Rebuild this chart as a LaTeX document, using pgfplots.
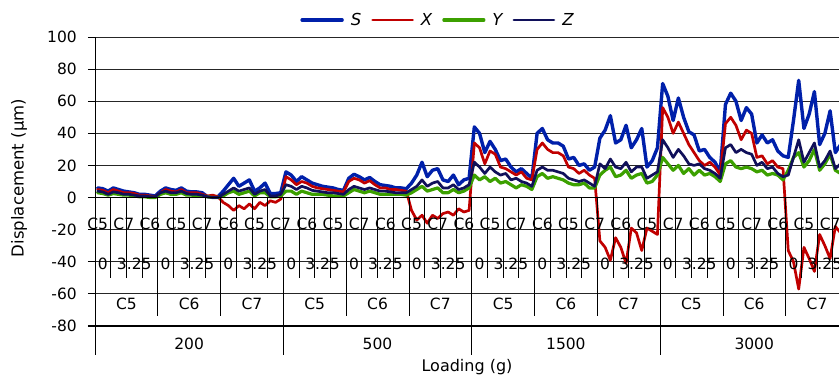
\documentclass[border=0pt]{standalone}
\usepackage{fontspec}
\setmainfont{Liberation Sans}
\newfontfamily\dejavu{DejaVu Sans}
\usepackage{pgfplots}
\usepackage{pgfplotstable}
\pgfplotsset{compat=1.18}
\definecolor{cS}{RGB}{0,32,170}
\definecolor{cX}{RGB}{192,0,0}
\definecolor{cY}{RGB}{60,160,0}
\definecolor{cZ}{RGB}{16,16,90}

\pgfplotstableread{
x S X Y Z
0.5 6 5 3 4
1.5 5.5 4.5 2.5 3.5
2.5 4 3 1.5 2
3.5 6 5 2.5 3.5
4.5 5 4 2 3
5.5 4 3 1.5 2
6.5 3.5 3 1.5 2
7.5 3 2.5 1 1.5
8.5 2 1.5 0.5 1
9.5 2 1.5 0.5 1
10.5 1.5 1 0 0.5
11.5 1 0.5 0 0.5
12.5 4 3 2 3
13.5 6 5 3 4
14.5 5 4 2 3
15.5 4.5 3.5 2 3
16.5 6 5 3 4
17.5 4 3 1.5 2.5
18.5 3.5 3 1.5 2
19.5 3.5 3 1 2
20.5 3 2 1 1.5
21.5 0.5 1 0.5 0.5
22.5 0.5 1.5 0 0
23.5 0.5 0.5 0 0
24.5 4 -3 1 2
25.5 8 -5 3 4
26.5 12 -8 4 6
27.5 7 -5 2 4
28.5 9 -7 3 5
29.5 11 -4 4 6
30.5 4 -7 1 2
31.5 6 -3 3 4
32.5 9 -5 3 5
33.5 2.5 -2 0.5 1
34.5 2.5 -3 0.5 1
35.5 3 -1 1 2
36.5 16 13 4 8
37.5 14 11 4 7
38.5 10 8 2 5
39.5 13 10 4 7
40.5 11 9 3 6
41.5 9 7 2 4.5
42.5 8 6 2 4
43.5 7 5.5 2 3.5
44.5 6.5 5 1.5 3
45.5 6 4.5 1 3
46.5 5 4 1 2.5
47.5 4.5 3.5 1 2
48.5 12 10 3 5
49.5 14.5 12 5 7
50.5 13 11 4 6
51.5 11 9 3 5
52.5 12.5 10.5 4 6
53.5 10 8 3 5
54.5 8 6 2 4
55.5 7.5 6 2 4
56.5 7 5 2 3.5
57.5 6 5 2 3
58.5 6 4.5 2 3
59.5 5.5 4 1.5 3
60.5 9 -8 3 5
61.5 14 -14 5 7
62.5 22 -11 7 11
63.5 13 -16 4 7
64.5 17 -11 5 9
65.5 18 -13 6 10
66.5 11 -10 3 6
67.5 10 -9 3 6
68.5 14 -11 5 8
69.5 8 -7 3 5
70.5 11 -9 4 6
71.5 12 -8 6 8
72.5 44 34 14 22
73.5 40 31 11 19
74.5 28 21 13 15
75.5 35 29 10 19
76.5 30 27 12 16
77.5 23 19 9 14
78.5 24 18 10 15
79.5 19 16 8 11
80.5 16 14 6 12
81.5 18 16 8 10
82.5 15 12 7 9
83.5 12 11 5 7
84.5 40 30 13 17
85.5 43 34 15 19
86.5 36 30 12 17
87.5 34 28 13 17
88.5 34 28 12 16
89.5 32 26 11 15
90.5 24 19 9 12
91.5 25 18 8 11
92.5 20 15 8 10
93.5 21 17 9 11
94.5 17 14 6 9
95.5 19 12 6 7
96.5 37 -27 14 21
97.5 42 -31 17 18
98.5 51 -39 19 24
99.5 34 -25 13 19
100.5 36 -31 14 18
101.5 45 -41 17 22
102.5 31 -19 12 16
103.5 36 -22 14 19
104.5 43 -33 15 19
105.5 19 -19 9 12
106.5 23 -21 10 14
107.5 31 -23 14 16
108.5 71 56 25 36
109.5 63 50 21 31
110.5 48 40 17 25
111.5 62 47 20 30
112.5 50 40 15 26
113.5 41 33 18 21
114.5 39 28 14 20
115.5 29 23 17 21
116.5 30 20 14 18
117.5 25 22 15 17
118.5 22 19 13 15
119.5 16 14 10 12
120.5 58 46 21 31
121.5 65 50 23 33
122.5 60 45 19 28
123.5 48 36 18 30
124.5 56 42 19 28
125.5 52 40 18 27
126.5 34 25 16 20
127.5 39 26 17 22
128.5 34 21 14 18
129.5 36 23 15 19
130.5 29 19 14 15
131.5 26 18 11 13
132.5 25 -33 17 14
133.5 48 -40 25 25
134.5 73 -57 28 36
135.5 43 -31 19 22
136.5 52 -38 23 28
137.5 66 -46 30 34
138.5 33 -23 17 19
139.5 40 -30 21 23
140.5 54 -38 27 29
141.5 28 -18 17 18
142.5 33 -22 15 21
}\datatable

\begin{document}
\begin{tikzpicture}
\useasboundingbox (0,0) rectangle (839pt,376pt);
\begin{axis}[
  at={(95pt,50pt)}, anchor=south west,
  scale only axis, width=744pt, height=289pt,
  xmin=0, xmax=142.2, ymin=-80, ymax=100,
  axis x line=none, axis y line*=left,
  xtick=\empty,
  ytick={-80,-60,...,100},
  ymajorgrids, grid style={black!85, line width=0.8pt},
  tick align=outside, major tick length=7pt,
  ytick style={black, line width=0.8pt},
  y axis line style={black, line width=0.9pt},
  /pgf/number format/assume math mode=true,
  yticklabel={\pgfmathprintnumber[assume math mode=true]{\tick}},
  yticklabel style={font=\dejavu\fontsize{15.5}{16}\selectfont, inner sep=0pt, xshift=-11pt},
  clip mode=individual,
  legend columns=4,
  legend style={draw=none, fill=none, at={(0.461,1.0588)}, anchor=center,
    font=\dejavu\itshape\fontsize{16.5}{17}\selectfont,
    /tikz/every odd column/.append style={column sep=5pt},
    /tikz/every even column/.append style={column sep=8pt}},
  legend image code/.code={\draw[#1] (0pt,0pt) -- (40pt,0pt);},
  every axis plot/.append style={line join=round, line cap=round},
]
\addplot[cS, line width=3.4pt, no markers] table[x=x, y=S] {\datatable};
\addlegendentry{S}
\addplot[cX, line width=2.7pt, no markers] table[x=x, y=X] {\datatable};
\addlegendentry{X}
\addplot[cY, line width=3.2pt, no markers] table[x=x, y=Y] {\datatable};
\addlegendentry{Y}
\addplot[cZ, line width=2.7pt, no markers] table[x=x, y=Z] {\datatable};
\addlegendentry{Z}
\end{axis}
% category table beneath the zero line
\begin{scope}[shift={(95pt,178.44pt)}, x=5.2321pt, y=1.6056pt]
  \draw[black, line width=0.9pt] (0,0) -- (142.2,0);
  \draw[black, line width=2pt] (-1.34,-80) -- (142.2,-80);
  \foreach \i in {3,6,...,141} \draw[black, line width=0.7pt] (\i,0) -- (\i,-50);
  \foreach \i in {12,24,...,132} \draw[black, line width=0.7pt] (\i,0) -- (\i,-74);
  \foreach \i in {0,36,72,108} \draw[black, line width=0.7pt] (\i,0) -- (\i,-98);
  \foreach \k in {0,5,...,140} {
    \pgfmathtruncatemacro{\m}{5+mod(\k,3)}
    \node[font=\dejavu\fontsize{15.5}{16}\selectfont, inner sep=0pt] at (\k+0.5,-16.2) {C\m};
  }
  \foreach \j in {0,...,23} {
    \node[font=\dejavu\fontsize{15.5}{16}\selectfont, inner sep=0pt] at (6*\j+1.5,-41) {\ifodd\j\relax 3.25\else 0\fi};
  }
  \foreach \j in {0,...,11} {
    \pgfmathtruncatemacro{\m}{5+mod(\j,3)}
    \node[font=\dejavu\fontsize{15.5}{16}\selectfont, inner sep=0pt] at (12*\j+6,-66) {C\m};
  }
  \foreach \j/\t in {0/200,1/500,2/1500,3/3000}
    \node[font=\dejavu\fontsize{15.5}{16}\selectfont, inner sep=0pt] at (36*\j+18,-91) {\t};
\end{scope}
\node[font=\dejavu\fontsize{16.5}{17}\selectfont, rotate=90] at (19pt,198pt) {Displacement (µm)};
\node[font=\dejavu\fontsize{16}{17}\selectfont] at (467pt,9pt) {Loading (g)};
\end{tikzpicture}
\end{document}
